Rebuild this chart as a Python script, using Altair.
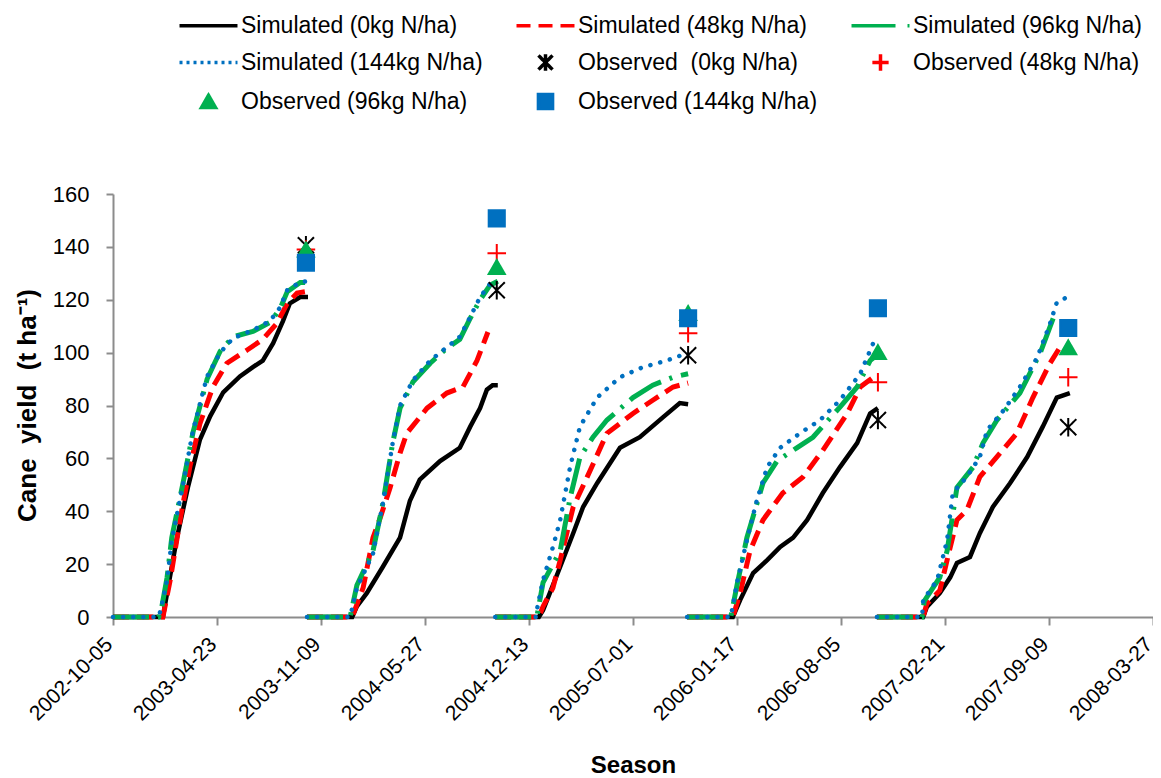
import altair as alt
import pandas as pd

START = pd.Timestamp("2002-10-05")

SERIES = [
    "Simulated (0kg N/ha)", "Simulated (48kg N/ha)", "Simulated (96kg N/ha)",
    "Simulated (144kg N/ha)", "Observed\u00a0 (0kg N/ha)", "Observed (48kg N/ha)",
    "Observed (96kg N/ha)", "Observed (144kg N/ha)",
]

TICK_LABELS = ["2002-10-05", "2003-04-23", "2003-11-09", "2004-05-27", "2004-12-13",
               "2005-07-01", "2006-01-17", "2006-08-05", "2007-02-21", "2007-09-09",
               "2008-03-27"]
Y_TICKS = [0, 20, 40, 60, 80, 100, 120, 140, 160]

# simulated cane yield, (days since 2002-10-05, t/ha), one list per season
SIM_0 = [
    [(0, 0), (96, 0), (104, 9), (123, 30), (144, 49), (167, 67), (187, 76), (212, 85), (244, 91),
     (269, 94.5), (288, 97), (308, 103.6), (327, 112), (340, 118.6), (360, 121), (375, 121)],
    [(373, 0), (460, 0), (469, 4), (488, 9), (519, 19), (552, 30), (571, 44), (590, 52), (629, 59),
     (667, 64), (687, 72), (706, 79), (719, 86), (730, 87.7), (740, 87.7)],
    [(735, 0), (819, 0), (827, 2.6), (840, 9), (860, 19), (885, 31.7), (904, 41.6), (931, 50.6),
     (975, 64), (1013, 68), (1058, 75.6), (1090, 80.9), (1106, 80.5)],
    [(1104, 0), (1192, 0), (1206, 6.4), (1231, 16.6), (1258, 21.5), (1283, 26.5), (1308, 30),
     (1335, 36.7), (1365, 46.9), (1398, 56.7), (1431, 65.8), (1456, 77), (1471, 79)],
    [(1469, 0), (1558, 0), (1565, 3.8), (1590, 9), (1610, 15), (1623, 20.4), (1648, 22.7),
     (1667, 31.7), (1692, 41.6), (1725, 50.6), (1758, 60.5), (1788, 72), (1815, 83), (1840, 84.7)],
]
SIM_48 = [
    [(0, 0), (96, 0), (110, 14), (129, 36.7), (148, 57), (167, 73), (192, 87), (219, 96), (258, 101),
     (288, 105), (315, 111), (335, 118.6), (354, 122.5), (369, 123)],
    [(373, 0), (460, 0), (481, 11), (500, 30), (513, 37), (533, 49), (552, 62), (565, 69.5),
     (604, 79), (642, 84.7), (673, 87), (700, 97), (721, 107.8)],
    [(735, 0), (819, 0), (827, 4), (846, 11), (860, 21.5), (885, 41.6), (912, 53), (950, 69.5),
     (1000, 77), (1038, 82), (1077, 87), (1106, 88.5)],
    [(1104, 0), (1192, 0), (1206, 9), (1225, 25), (1250, 36.7), (1288, 46.9), (1327, 53),
     (1365, 63), (1412, 77), (1437, 87), (1471, 92)],
    [(1469, 0), (1558, 0), (1565, 5), (1590, 10), (1604, 21.5), (1623, 36.7), (1642, 40.4),
     (1667, 53), (1706, 62), (1738, 69.5), (1769, 83), (1802, 96), (1821, 102)],
]
SIM_96 = [
    [(0, 0), (88, 0), (94, 4), (104, 15), (113, 30), (135, 51), (154, 70), (181, 90), (206, 100.5),
     (231, 106), (269, 108), (302, 111.5), (321, 116.5), (335, 123), (360, 126.5), (375, 126.5)],
    [(373, 0), (456, 0), (469, 12), (500, 25), (519, 43), (538, 66), (552, 79), (577, 89),
     (610, 96), (642, 101.7), (667, 105), (687, 113), (706, 120), (725, 125.5), (740, 127)],
    [(735, 0), (815, 0), (827, 13), (860, 25), (879, 45), (898, 60.5), (923, 68), (950, 74.5),
     (1000, 83), (1038, 87.7), (1077, 90.7), (1106, 92)],
    [(1104, 0), (1188, 0), (1200, 12), (1219, 30), (1250, 50.7), (1277, 59), (1315, 64),
     (1346, 68), (1398, 79.4), (1431, 87), (1456, 97), (1475, 100)],
    [(1469, 0), (1556, 0), (1560, 6), (1590, 15), (1604, 25), (1623, 49), (1654, 56.7),
     (1673, 65.8), (1700, 74.5), (1744, 84.7), (1783, 99.8), (1808, 113)],
]
SIM_144 = [
    [(0, 0), (88, 0), (92, 3), (104, 14), (113, 29), (135, 50.6), (154, 70.7), (181, 91), (206, 100),
     (231, 105.5), (269, 108.5), (302, 112), (321, 117), (335, 123.6), (360, 126.7), (375, 127)],
    [(373, 0), (456, 0), (469, 11), (500, 24), (519, 43), (538, 66), (552, 80), (577, 89.6),
     (610, 97), (642, 102), (667, 106), (687, 113.5), (706, 121), (725, 126), (735, 127.4)],
    [(735, 0), (813, 0), (815, 2.6), (827, 14), (846, 26.5), (860, 36.7), (879, 56.7), (898, 72),
     (931, 83), (975, 90.7), (1019, 94.5), (1065, 97), (1104, 99.8)],
    [(1104, 0), (1188, 0), (1200, 13), (1219, 29), (1238, 44), (1258, 56.7), (1283, 64),
     (1321, 69.5), (1360, 74.5), (1398, 82), (1437, 92), (1462, 103.6)],
    [(1469, 0), (1556, 0), (1558, 6.4), (1585, 14), (1604, 29), (1615, 46.9), (1642, 53),
     (1667, 60.5), (1681, 70.7), (1712, 78), (1744, 87), (1777, 98), (1802, 111), (1815, 119),
     (1835, 121)],
]

# observed cane yield at harvest
OBS_DAYS = [371, 738, 1106, 1471, 1837]
OBS_0 = [140.6, 123.6, 99, 74.5, 71.8]
OBS_48 = [139, 137.6, 107.3, 88.8, 90.7]
OBS_96 = [139, 132.4, 115, 100.2, 102]
OBS_144 = [134, 150.8, 113, 116.8, 109.3]


def to_date(d):
    return (START + pd.Timedelta(days=d)).strftime("%Y-%m-%d")


def to_dt(s):
    t = pd.Timestamp(s)
    return alt.DateTime(year=t.year, month=t.month, date=t.day, utc=True)


sim_rows = []
for name, seasons in zip(SERIES[:4], [SIM_0, SIM_48, SIM_96, SIM_144]):
    for k, season in enumerate(seasons):
        for d, v in season:
            sim_rows.append({"series": name, "season": k, "date": to_date(d), "value": v})
sim_df = pd.DataFrame(sim_rows)

obs_rows = []
for name, vals in zip(SERIES[4:], [OBS_0, OBS_48, OBS_96, OBS_144]):
    for d, v in zip(OBS_DAYS, vals):
        obs_rows.append({"series": name, "date": to_date(d), "value": v})
obs_df = pd.DataFrame(obs_rows)

BLACK, RED, GREEN, BLUE = "#000000", "#FF0000", "#00B050", "#0070C0"
STROKES = [BLACK, RED, GREEN, BLUE, BLACK, RED, GREEN, BLUE]
FILLS = ["transparent"] * 6 + [GREEN, BLUE]
LINE_PATH = "M-4.1,0H4.1"
STAR = "M-1,-1L1,1M-1,1L1,-1M0,-1.15L0,1.15"
PLUS = "M-1.15,0H1.15M0,-1.15V1.15"
SHAPES = [LINE_PATH] * 4 + [STAR, PLUS, "triangle-up", "square"]
LEGEND_DASHES = [[1, 0], [14, 8], [44, 12, 3, 12], [3, 4], [1, 0], [1, 0], [1, 0], [1, 0]]

FONT = "Liberation Sans"
AXIS_GREY = "#8c8c8c"

x_enc = alt.X(
    "date:T",
    scale=alt.Scale(type="utc", domain=[to_dt(TICK_LABELS[0]), to_dt(TICK_LABELS[-1])]),
    axis=alt.Axis(values=[to_dt(s) for s in TICK_LABELS],
                  labelExpr="utcFormat(datum.value, '%Y-%m-%d')",
                  labelAngle=-45, labelAlign="right", labelBaseline="middle",
                  labelFontSize=21, labelColor="black", labelPadding=16, labelOffset=-4,
                  labelOverlap=False, labelFlush=False, grid=False,
                  domainColor=AXIS_GREY, domainWidth=2, tickColor=AXIS_GREY, tickWidth=2,
                  tickSize=8, titleFontSize=24, titleFontWeight="bold", titleColor="black",
                  titleY=148, titleBaseline="middle"),
    title="Season",
)
y_enc = alt.Y(
    "value:Q",
    scale=alt.Scale(domain=[0, 160], nice=False),
    axis=alt.Axis(values=Y_TICKS, grid=False, labelFontSize=22, labelColor="black",
                  labelPadding=17, domainColor=AXIS_GREY, domainWidth=2, tickColor=AXIS_GREY,
                  tickWidth=2, tickSize=7, titleFontSize=26, titleFontWeight="bold",
                  titleColor="black", titleX=-86, titleY=211, titleBaseline="middle"),
    title="Cane\u00a0 yield\u00a0 (t ha\u207b\u00b9)",
)

STYLES = [
    dict(color=BLACK, strokeWidth=4.5),
    dict(color=RED, strokeWidth=5, strokeDash=[16, 8]),
    dict(color=GREEN, strokeWidth=5, strokeDash=[36, 9, 3, 9]),
    dict(color=BLUE, strokeWidth=4.5, strokeDash=[0.1, 10], strokeCap="round"),
]

layers = []
for name, style in zip(SERIES[:4], STYLES):
    layers.append(
        alt.Chart(sim_df[sim_df.series == name]).mark_line(**style).encode(
            x=x_enc, y=y_enc, detail="season:N")
    )

legend = alt.Legend(
    orient="none", direction="horizontal", legendX=62, legendY=-180, columns=3,
    columnPadding=26, rowPadding=9, padding=0, title=None, labelFont=FONT,
    labelFontSize=23, labelColor="black", labelLimit=400, symbolSize=200,
    symbolOffset=22, labelOffset=21, symbolStrokeWidth=3.5, symbolOpacity=1,
)

points = alt.Chart(obs_df).mark_point(filled=False, size=260, strokeWidth=2, opacity=1).encode(
    x=x_enc, y=y_enc,
    color=alt.Color("series:N", scale=alt.Scale(domain=SERIES, range=STROKES), legend=legend),
    fill=alt.Fill("series:N", scale=alt.Scale(domain=SERIES, range=FILLS), legend=legend),
    shape=alt.Shape("series:N", scale=alt.Scale(domain=SERIES, range=SHAPES), legend=legend),
    strokeDash=alt.StrokeDash("series:N", scale=alt.Scale(domain=SERIES, range=LEGEND_DASHES),
                              legend=legend),
)
layers.append(points)

chart = alt.layer(*layers).properties(
    width=1040, height=423,
    padding={"left": 105, "top": 186, "right": 0, "bottom": 160},
    autosize=alt.AutoSizeParams(type="none"),
).configure_view(strokeWidth=0).configure_axis(
    labelFont=FONT, titleFont=FONT
).configure_legend(labelFont=FONT)

chart.save("out.html", embed_options={"renderer": "svg", "actions": False})
